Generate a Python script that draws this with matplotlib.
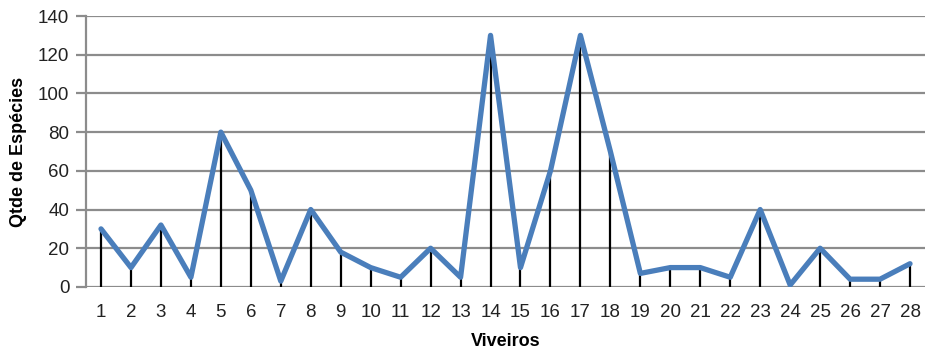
import matplotlib
matplotlib.use("Agg")
import matplotlib.pyplot as plt

viveiros = list(range(1, 29))
especies = [30, 10, 32, 5, 80, 50, 3, 40, 18, 10, 5, 20, 5, 130,
            10, 60, 130, 70, 7, 10, 10, 5, 40, 1, 20, 4, 4, 12]
y_ticks = [0, 20, 40, 60, 80, 100, 120, 140]

plt.rcParams['font.family'] = ['Liberation Sans', 'DejaVu Sans']

fig = plt.figure(figsize=(9.25, 3.56), dpi=100)
ax = fig.add_axes([0.093, 0.194, 0.907, 0.761])

# horizontal gridlines
for t in y_ticks:
    ax.axhline(t, color='#8c8c8c', lw=1.6, zorder=1)

# drop lines from each point to the axis
ax.vlines(viveiros, 0, especies, color='black', lw=1.6, zorder=2)

ax.plot(viveiros, especies, color='#4A7EBB', lw=3.8, zorder=3,
        solid_joinstyle='round', solid_capstyle='round')

ax.set_xlim(0.5, 28.5)
ax.set_ylim(0, 140)
ax.set_xticks(viveiros)
ax.set_xticklabels([str(v) for v in viveiros])
ax.set_yticks(y_ticks)

for s in ['top', 'right', 'bottom']:
    ax.spines[s].set_visible(False)
ax.spines['left'].set_color('#8c8c8c')
ax.spines['left'].set_linewidth(1.6)

ax.tick_params(axis='x', length=0, pad=12, labelsize=13.5, colors='#222222')
ax.tick_params(axis='y', length=7, width=1.6, color='#8c8c8c', pad=5,
               labelsize=13.5, labelcolor='#222222')

ax.set_xlabel('Viveiros', fontsize=13, fontweight='bold', labelpad=9)
ax.set_ylabel('Qtde de Espécies', fontsize=13, fontweight='bold', labelpad=8)

fig.savefig('out.png', dpi=100)
